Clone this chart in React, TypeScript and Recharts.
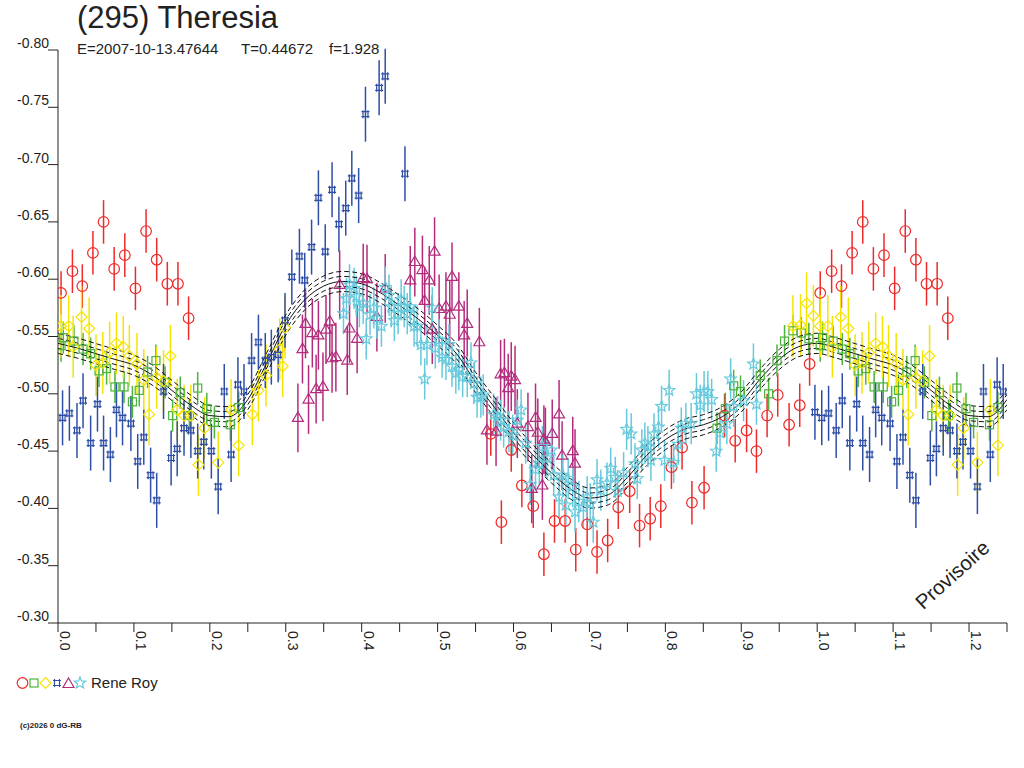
import React from 'react';
import { ComposedChart, Scatter, Line, XAxis, YAxis, ErrorBar } from 'recharts';

// ---- data (phase, magnitude) ----
const RED: [number, number][] = [
  [0.004,-0.588],[0.019,-0.607],[0.032,-0.594],[0.046,-0.623],[0.060,-0.650],[0.074,-0.609],[0.088,-0.621],
  [0.102,-0.592],[0.116,-0.642],[0.130,-0.617],[0.144,-0.596],[0.158,-0.596],[0.172,-0.566],
  [0.570,-0.465],[0.584,-0.388],[0.597,-0.451],[0.611,-0.420],[0.626,-0.402],[0.640,-0.360],[0.654,-0.389],
  [0.668,-0.389],[0.682,-0.364],[0.697,-0.386],[0.710,-0.362],[0.724,-0.372],[0.738,-0.401],[0.753,-0.415],
  [0.766,-0.385],[0.780,-0.391],[0.794,-0.402],[0.808,-0.436],[0.822,-0.453],[0.835,-0.405],[0.851,-0.418],
  [0.878,-0.481],[0.892,-0.459],[0.907,-0.468],[0.920,-0.450],[0.934,-0.481],[0.948,-0.499],[0.963,-0.473],
  [0.977,-0.490],[0.990,-0.526],
];
const GREEN: [number, number][] = [
  [0.004,-0.542],[0.007,-0.549],[0.021,-0.546],[0.033,-0.539],[0.043,-0.535],[0.054,-0.520],[0.064,-0.522],
  [0.075,-0.506],[0.087,-0.506],[0.098,-0.493],[0.107,-0.503],[0.118,-0.519],[0.129,-0.529],[0.141,-0.510],
  [0.151,-0.481],[0.161,-0.501],[0.173,-0.481],[0.184,-0.505],[0.196,-0.487],[0.206,-0.475],[0.227,-0.473],
  [0.238,-0.488],
  [0.868,-0.470],[0.879,-0.487],[0.890,-0.507],[0.899,-0.502],[0.925,-0.516],[0.936,-0.500],[0.947,-0.529],
  [0.957,-0.546],[0.968,-0.555],[0.979,-0.553],[0.989,-0.548],
];
const YELLOW: [number, number][] = [
  [0.004,-0.559],[0.014,-0.559],[0.020,-0.541],[0.031,-0.567],[0.041,-0.557],[0.050,-0.525],[0.059,-0.527],
  [0.068,-0.536],[0.077,-0.544],[0.086,-0.541],[0.094,-0.533],[0.104,-0.526],[0.113,-0.512],[0.120,-0.482],
  [0.130,-0.514],[0.139,-0.511],[0.148,-0.533],[0.157,-0.486],[0.166,-0.481],[0.175,-0.481],[0.185,-0.438],
  [0.193,-0.470],[0.211,-0.440],[0.228,-0.486],[0.238,-0.455],[0.256,-0.482],[0.264,-0.503],[0.274,-0.516],
  [0.292,-0.539],[0.296,-0.524],[0.299,-0.558],
  [0.968,-0.559],[0.978,-0.560],[0.986,-0.579],[0.995,-0.568],
];
const BLUE: [number, number][] = [
  [0.006,-0.479],[0.015,-0.483],[0.025,-0.468],[0.033,-0.494],[0.043,-0.457],[0.052,-0.491],[0.060,-0.457],
  [0.069,-0.447],[0.077,-0.486],[0.085,-0.479],[0.096,-0.474],[0.105,-0.441],[0.113,-0.462],[0.122,-0.429],
  [0.130,-0.407],[0.139,-0.502],[0.149,-0.444],[0.157,-0.452],[0.166,-0.470],[0.175,-0.468],[0.184,-0.450],
  [0.192,-0.458],[0.202,-0.450],[0.211,-0.419],[0.219,-0.502],[0.228,-0.447],[0.237,-0.508],[0.245,-0.502],
  [0.255,-0.529],[0.264,-0.545],[0.273,-0.529],[0.281,-0.532],[0.290,-0.534],[0.299,-0.564],[0.308,-0.602],
  [0.318,-0.620],[0.325,-0.599],[0.334,-0.628],[0.343,-0.671],[0.352,-0.624],[0.361,-0.678],[0.370,-0.648],
  [0.379,-0.662],[0.387,-0.688],[0.396,-0.673],[0.405,-0.744],[0.423,-0.767],[0.431,-0.777],[0.457,-0.692],
  [0.997,-0.484],
];
const MAGENTA: [number, number][] = [
  [0.316,-0.479],[0.322,-0.539],[0.326,-0.561],[0.330,-0.495],[0.335,-0.553],[0.340,-0.504],[0.343,-0.551],
  [0.349,-0.506],[0.353,-0.556],[0.358,-0.563],[0.361,-0.531],[0.366,-0.532],[0.371,-0.595],[0.381,-0.529],
  [0.384,-0.557],[0.394,-0.548],[0.402,-0.601],[0.407,-0.600],[0.420,-0.567],[0.431,-0.592],[0.464,-0.599],
  [0.470,-0.615],[0.480,-0.608],[0.483,-0.581],[0.489,-0.599],[0.493,-0.556],[0.496,-0.624],[0.502,-0.574],
  [0.511,-0.576],[0.516,-0.569],[0.519,-0.602],[0.528,-0.576],[0.535,-0.551],[0.539,-0.561],[0.555,-0.545],
  [0.565,-0.468],[0.577,-0.467],[0.583,-0.517],[0.588,-0.518],[0.593,-0.505],[0.597,-0.515],[0.602,-0.512],
  [0.605,-0.474],[0.619,-0.471],[0.624,-0.417],[0.629,-0.479],[0.632,-0.466],[0.638,-0.420],[0.640,-0.460],
  [0.642,-0.458],[0.651,-0.465],[0.660,-0.482],[0.664,-0.446],[0.678,-0.450],[0.681,-0.439],
];
const CYAN: [number, number][] = [
  [0.376,-0.570],[0.380,-0.583],[0.384,-0.595],[0.390,-0.592],[0.393,-0.585],[0.397,-0.576],[0.402,-0.579],
  [0.406,-0.548],[0.411,-0.569],[0.416,-0.575],[0.420,-0.566],[0.426,-0.559],[0.431,-0.593],[0.436,-0.586],
  [0.439,-0.576],[0.443,-0.564],[0.448,-0.570],[0.452,-0.582],[0.456,-0.576],[0.460,-0.570],[0.464,-0.576],
  [0.469,-0.559],[0.473,-0.559],[0.478,-0.543],[0.483,-0.513],[0.486,-0.543],[0.493,-0.575],[0.497,-0.540],
  [0.502,-0.547],[0.506,-0.532],[0.511,-0.530],[0.515,-0.543],[0.519,-0.524],[0.524,-0.518],[0.528,-0.521],
  [0.533,-0.515],[0.539,-0.515],[0.544,-0.527],[0.548,-0.509],[0.552,-0.497],[0.557,-0.497],[0.560,-0.499],
  [0.574,-0.482],[0.579,-0.480],[0.583,-0.477],[0.587,-0.471],[0.594,-0.467],[0.599,-0.464],[0.605,-0.477],
  [0.610,-0.486],[0.616,-0.457],[0.622,-0.421],[0.629,-0.434],[0.634,-0.439],[0.638,-0.454],[0.644,-0.444],
  [0.650,-0.451],[0.653,-0.429],[0.660,-0.410],[0.665,-0.429],[0.669,-0.403],[0.672,-0.426],[0.678,-0.419],
  [0.681,-0.397],[0.686,-0.406],[0.692,-0.401],[0.697,-0.410],[0.701,-0.404],[0.705,-0.388],[0.710,-0.425],
  [0.715,-0.416],[0.723,-0.422],[0.728,-0.435],[0.734,-0.427],[0.737,-0.415],[0.745,-0.431],[0.749,-0.469],
  [0.755,-0.465],[0.760,-0.439],[0.763,-0.426],[0.769,-0.451],[0.773,-0.457],[0.777,-0.454],[0.781,-0.442],
  [0.785,-0.465],[0.791,-0.471],[0.795,-0.489],[0.799,-0.442],[0.805,-0.503],[0.811,-0.440],[0.817,-0.456],
  [0.821,-0.470],[0.827,-0.474],[0.834,-0.474],[0.841,-0.500],[0.846,-0.490],[0.851,-0.502],[0.856,-0.502],
  [0.861,-0.495],[0.867,-0.450],[0.872,-0.466],[0.881,-0.474],[0.886,-0.513],[0.890,-0.489],[0.903,-0.494],
  [0.916,-0.526],[0.920,-0.491],
];

// error half-lengths per series
const RED_ERR = 0.019;
const GREEN_ERR = 0.014;
const YELLOW_ERR = 0.027;
const BLUE_ERR = 0.024;
const MAGENTA_ERR = 0.03;
const CYAN_ERR = 0.018;

// fitted light curve, one cycle
const CURVE_PHASE = [
  0.000,0.025,0.050,0.075,0.100,0.125,0.150,0.175,0.200,0.225,0.250,0.275,0.300,0.325,0.350,0.375,0.400,
  0.425,0.450,0.475,0.500,0.525,0.550,0.575,0.600,0.625,0.650,0.675,0.700,0.725,0.750,0.775,0.800,0.825,
  0.850,0.875,0.900,0.925,0.950,0.975,
];
const CURVE_MAG = [
  -0.544,-0.540,-0.535,-0.530,-0.525,-0.516,-0.503,-0.490,-0.481,-0.480,-0.495,-0.527,-0.560,-0.582,-0.594,
  -0.598,-0.596,-0.588,-0.577,-0.565,-0.551,-0.535,-0.510,-0.488,-0.466,-0.447,-0.431,-0.417,-0.409,-0.412,
  -0.427,-0.446,-0.460,-0.469,-0.473,-0.480,-0.493,-0.513,-0.530,-0.541,
];
const BAND_OFFSETS = [-0.0088, -0.0044, 0, 0.0044, 0.0088];

const Y_TICKS = [-0.8,-0.75,-0.7,-0.65,-0.6,-0.55,-0.5,-0.45,-0.4,-0.35,-0.3];
const Y_LABELS = ['-0.80','-0.75','-0.70','-0.65','-0.60','-0.55','-0.50','-0.45','-0.40','-0.35','-0.30'];
const X_TICKS = [0,0.05,0.1,0.15,0.2,0.25,0.3,0.35,0.4,0.45,0.5,0.55,0.6,0.65,0.7,0.75,0.8,0.85,0.9,0.95,1.0,1.05,1.1,1.15,1.2,1.25];

const TITLE = '(295) Theresia';
const SUB_E = 'E=2007-10-13.47644';
const SUB_T = 'T=0.44672';
const SUB_F = 'f=1.928';
const OBSERVER = 'Rene Roy';

const COLORS = {
  red: '#ee2a2a',
  green: '#4db33d',
  yellow: '#f5e400',
  blue: '#2f4fa6',
  magenta: '#b32c7c',
  cyan: '#66c9dc',
};

// ---- build tables ----
const expand = (pts: [number, number][], err: number) => {
  const out: { phase: number; mag: number; err: number }[] = [];
  pts.forEach(([p, m]) => {
    out.push({ phase: p, mag: m, err });
    if (p + 1 <= 1.25) out.push({ phase: p + 1, mag: m, err });
  });
  return out;
};

const curveData = (() => {
  const rows: any[] = [];
  const add = (p: number, m: number) => {
    const r: any = { phase: p };
    BAND_OFFSETS.forEach((o, i) => (r['b' + i] = m + o));
    rows.push(r);
  };
  CURVE_PHASE.forEach((p, i) => add(p, CURVE_MAG[i]));
  CURVE_PHASE.forEach((p, i) => { if (p + 1 <= 1.25) add(p + 1, CURVE_MAG[i]); });
  add(1.25, CURVE_MAG[10]);
  return rows.sort((a, b) => a.phase - b.phase);
})();

// ---- markers ----
const Circle = ({ cx, cy, c }: any) => <circle cx={cx} cy={cy} r={5.3} fill="none" stroke={c} strokeWidth={1.2} />;
const Square = ({ cx, cy, c }: any) => <rect x={cx - 4} y={cy - 4} width={8} height={8} fill="none" stroke={c} strokeWidth={1.2} />;
const Diamond = ({ cx, cy, c }: any) => (
  <polygon points={`${cx},${cy - 5.5} ${cx + 5.5},${cy} ${cx},${cy + 5.5} ${cx - 5.5},${cy}`} fill="none" stroke={c} strokeWidth={1.2} />
);
const Hash = ({ cx, cy, c }: any) => (
  <path
    d={`M${cx - 4},${cy - 2.5}H${cx + 4}M${cx - 4},${cy + 2.5}H${cx + 4}M${cx - 2.5},${cy - 4}V${cy + 4}M${cx + 2.5},${cy - 4}V${cy + 4}`}
    fill="none" stroke={c} strokeWidth={1.2}
  />
);
const Tri = ({ cx, cy, c }: any) => (
  <polygon points={`${cx},${cy - 6} ${cx + 5.5},${cy + 3.5} ${cx - 5.5},${cy + 3.5}`} fill="none" stroke={c} strokeWidth={1.2} />
);
const Star = ({ cx, cy, c }: any) => {
  const pts: string[] = [];
  for (let i = 0; i < 10; i++) {
    const r = i % 2 === 0 ? 6 : 2.6;
    const a = -Math.PI / 2 + (i * Math.PI) / 5;
    pts.push(`${cx + r * Math.cos(a)},${cy + r * Math.sin(a)}`);
  }
  return <polygon points={pts.join(' ')} fill="none" stroke={c} strokeWidth={1.2} />;
};

const XTick = ({ x, payload }: any) => {
  const v = payload.value;
  const major = Math.abs(v * 10 - Math.round(v * 10)) < 1e-6;
  if (!major) return null;
  return (
    <text transform={`translate(${x + 2},${631}) rotate(90)`} fontSize={14} fill="#222" fontFamily="Liberation Sans, Arial, sans-serif">
      {v.toFixed(1)}
    </text>
  );
};

const YTick = ({ y, payload }: any) => {
  const idx = Y_TICKS.findIndex((t) => Math.abs(t - payload.value) < 1e-6);
  return (
    <text x={49} y={y - 2} textAnchor="end" fontSize={14} fill="#222" fontFamily="Liberation Sans, Arial, sans-serif">
      {idx >= 0 ? Y_LABELS[idx] : ''}
    </text>
  );
};

const series = [
  { name: 'red', pts: RED, err: RED_ERR, Shape: Circle },
  { name: 'green', pts: GREEN, err: GREEN_ERR, Shape: Square },
  { name: 'yellow', pts: YELLOW, err: YELLOW_ERR, Shape: Diamond },
  { name: 'blue', pts: BLUE, err: BLUE_ERR, Shape: Hash },
  { name: 'magenta', pts: MAGENTA, err: MAGENTA_ERR, Shape: Tri },
  { name: 'cyan', pts: CYAN, err: CYAN_ERR, Shape: Star },
];

export default function App() {
  const font = 'Liberation Sans, Arial, sans-serif';
  return (
    <div style={{ position: 'absolute', left: 0, top: 0, width: 1024, height: 768, background: '#fff', fontFamily: font }}>
      <ComposedChart width={1024} height={768} margin={{ top: 50, right: 17, bottom: 0, left: 0 }}>
        <XAxis
          type="number"
          dataKey="phase"
          domain={[0, 1.25]}
          ticks={X_TICKS}
          interval={0}
          allowDataOverflow
          height={145}
          tickSize={9}
          axisLine={{ stroke: '#222' }}
          tickLine={{ stroke: '#222' }}
          tick={<XTick />}
        />
        <YAxis
          type="number"
          domain={[-0.8, -0.3]}
          reversed
          ticks={Y_TICKS}
          interval={0}
          allowDataOverflow
          width={58}
          tickSize={10}
          axisLine={{ stroke: '#222' }}
          tickLine={{ stroke: '#222' }}
          tick={<YTick />}
        />
        {series.map(({ name, pts, err, Shape }) => {
          const c = (COLORS as any)[name];
          return (
            <Scatter
              key={name}
              data={expand(pts, err)}
              dataKey="mag"
              isAnimationActive={false}
              shape={(p: any) => <Shape cx={p.cx} cy={p.cy} c={c} />}
            >
              <ErrorBar dataKey="err" direction="y" width={0} stroke={c} strokeWidth={1.5} />
            </Scatter>
          );
        })}
        {BAND_OFFSETS.map((o, i) => (
          <Line
            key={'b' + i}
            data={curveData}
            dataKey={'b' + i}
            type="monotone"
            stroke="#111"
            strokeWidth={1}
            strokeDasharray={o === 0 ? undefined : '5 3'}
            dot={false}
            activeDot={false}
            isAnimationActive={false}
          />
        ))}
      </ComposedChart>

      <div style={{ position: 'absolute', left: 77, top: 0, fontSize: 31, color: '#222', lineHeight: '36px' }}>{TITLE}</div>
      <div style={{ position: 'absolute', left: 77, top: 40, fontSize: 15, color: '#222', lineHeight: '17px', whiteSpace: 'pre' }}>{SUB_E}</div>
      <div style={{ position: 'absolute', left: 241, top: 40, fontSize: 15, color: '#222', lineHeight: '17px' }}>{SUB_T}</div>
      <div style={{ position: 'absolute', left: 329, top: 40, fontSize: 15, color: '#222', lineHeight: '17px' }}>{SUB_F}</div>

      <svg style={{ position: 'absolute', left: 0, top: 660 }} width={200} height={80}>
        <Circle cx={22.5} cy={23} c={COLORS.red} />
        <Square cx={34} cy={23} c={COLORS.green} />
        <Diamond cx={45.5} cy={23} c={COLORS.yellow} />
        <Hash cx={57} cy={23} c={COLORS.blue} />
        <Tri cx={68.5} cy={24} c={COLORS.magenta} />
        <Star cx={80} cy={23} c={COLORS.cyan} />
        <text x={91} y={28} fontSize={15} fill="#222" fontFamily={font}>{OBSERVER}</text>
        <text x={20} y={68} fontSize={8} fill="#222" fontFamily={font} fontWeight="bold">(c)2026 0 dG-RB</text>
      </svg>

      <svg style={{ position: 'absolute', left: 880, top: 520 }} width={144} height={130}>
        <text transform="translate(77,60) rotate(-42)" textAnchor="middle" fontSize={20.5} fill="#222" fontFamily={font}>
          Provisoire
        </text>
      </svg>
    </div>
  );
}
